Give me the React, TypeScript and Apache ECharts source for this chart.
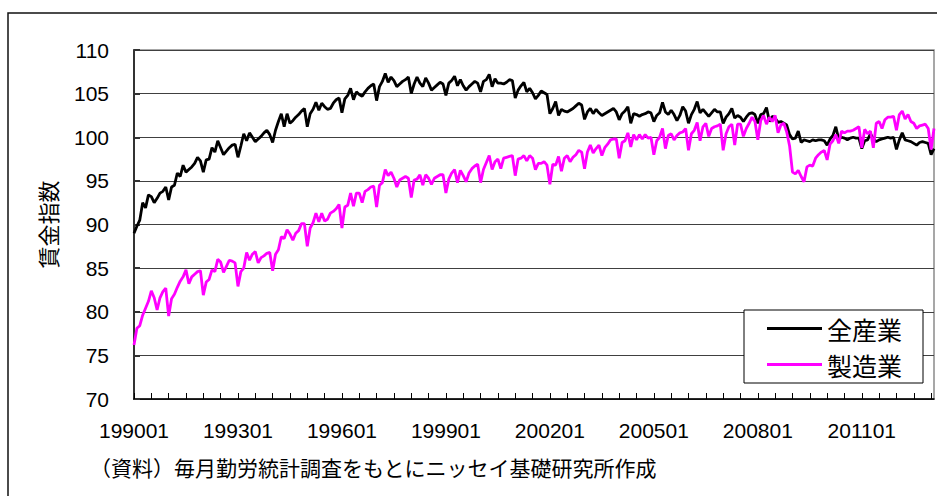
import React, { useEffect, useRef } from "react";
import * as echarts from "echarts";

// 全産業 (monthly, 1990-01 .. 2013-02)
const allIndustry: number[] = [
  // 1990
  89.0, 89.8, 90.5, 92.5, 91.9, 93.4, 93.2, 92.5, 93.0, 93.6, 93.8, 94.3,
  // 1991
  92.8, 94.3, 94.5, 95.9, 95.5, 96.8, 96.0, 96.3, 96.6, 97.0, 97.7, 97.3,
  // 1992
  96.0, 97.4, 97.5, 98.8, 98.3, 99.6, 98.8, 98.0, 98.4, 98.8, 99.1, 99.2,
  // 1993
  97.7, 99.0, 100.4, 99.6, 100.5, 100.0, 99.5, 99.8, 100.1, 100.5, 100.8, 100.3,
  // 1994
  99.4, 100.8, 101.8, 102.7, 101.2, 102.7, 101.6, 101.9, 102.3, 102.6, 103.0, 103.3,
  // 1995
  101.2, 102.7, 103.2, 104.0, 103.1, 103.9, 103.5, 103.2, 103.3, 103.9, 104.3, 104.5,
  // 1996
  102.8, 104.4, 104.8, 105.6, 104.3, 105.2, 104.9, 104.7, 105.2, 105.6, 105.9, 106.1,
  // 1997
  104.2, 105.8, 106.4, 107.3, 106.3, 106.9, 106.5, 105.8, 106.1, 106.4, 106.6, 106.9,
  // 1998
  105.0, 106.1, 106.9, 106.2, 105.8, 106.8, 106.2, 105.4, 105.7, 106.0, 106.3, 106.1,
  // 1999
  104.8, 106.2, 106.5, 107.0, 105.9, 106.6, 105.9, 105.4, 105.8, 106.1, 106.4, 106.2,
  // 2000
  105.2, 106.4, 106.6, 107.2, 105.8, 106.7, 106.2, 106.2, 106.1, 106.3, 106.6, 106.5,
  // 2001
  104.5, 105.4, 105.9, 106.3, 105.2, 105.6, 105.1, 104.4, 104.8, 105.3, 105.1, 104.9,
  // 2002
  102.7, 103.3, 104.1, 102.5, 103.2, 103.0, 102.9, 103.1, 103.3, 103.6, 103.9, 103.7,
  // 2003
  102.05, 102.9, 103.3, 102.7, 103.2, 102.8, 102.5, 102.7, 102.9, 103.1, 103.3, 102.9,
  // 2004
  102.0, 102.7, 103.0, 103.5, 101.6, 102.7, 102.6, 102.4, 102.6, 102.7, 102.9, 102.8,
  // 2005
  101.8, 102.5, 102.8, 104.0, 102.9, 102.6, 103.1, 102.6, 101.9, 102.5, 103.5, 103.0,
  // 2006
  101.6, 102.6, 103.2, 104.1, 102.8, 103.2, 102.8, 102.4, 102.8, 103.2, 102.9, 102.9,
  // 2007
  101.6, 102.3, 102.7, 103.3, 102.2, 102.5, 102.3, 101.8, 102.3, 102.7, 102.8, 102.6,
  // 2008
  101.6, 102.6, 102.7, 103.4, 101.8, 102.4, 102.2, 101.7, 101.8, 101.6, 101.4, 100.3,
  // 2009
  99.8, 99.9, 100.7, 99.4, 99.7, 99.6, 99.5, 99.7, 99.6, 99.7, 99.7, 99.6,
  // 2010
  99.1, 99.8, 100.2, 101.2, 99.8, 100.0, 99.9, 99.7, 99.9, 100.0, 99.9, 99.9,
  // 2011
  98.7, 99.6, 99.7, 100.4, 99.8, 99.5, 99.7, 99.8, 99.9, 100.0, 99.9, 100.0,
  // 2012
  98.6, 99.7, 100.5, 99.7, 99.6, 99.5, 99.3, 99.1, 99.4, 99.5, 99.4, 99.3,
  // 2013
  98.0, 98.7,
];

// 製造業 (monthly, 1990-01 .. 2013-02)
const manufacturing: number[] = [
  // 1990
  76.2, 78.1, 78.4, 79.6, 80.4, 81.2, 82.4, 81.6, 80.2, 81.6, 82.3, 82.7,
  // 1991
  79.5, 81.5, 82.0, 82.8, 83.5, 84.0, 84.8, 83.2, 84.0, 84.3, 84.6, 84.7,
  // 1992
  81.9, 83.4, 83.7, 84.8, 84.6, 86.0, 85.7, 84.5, 85.2, 85.9, 85.8, 85.6,
  // 1993
  82.9, 84.6, 85.0, 86.8, 85.9, 86.6, 86.9, 85.6, 86.2, 86.4, 86.7, 86.8,
  // 1994
  84.7, 86.6, 87.1, 88.6, 88.4, 89.4, 88.9, 88.2, 89.0, 89.3, 90.1, 90.1,
  // 1995
  87.5, 89.6, 90.2, 91.3, 90.3, 91.3, 90.4, 90.6, 91.3, 91.5, 91.8, 92.3,
  // 1996
  89.6, 92.0, 92.2, 93.6, 92.1, 93.6, 93.6, 92.5, 93.8, 94.0, 94.3, 94.4,
  // 1997
  92.0, 94.5, 94.8, 96.3, 95.6, 96.0, 95.3, 94.3, 95.1, 95.3, 95.5, 95.3,
  // 1998
  93.1, 95.1, 95.2, 95.7, 94.5, 95.7, 95.3, 94.6, 95.3, 95.5, 95.7, 95.7,
  // 1999
  93.6, 95.2, 95.9, 96.3, 94.8, 96.2, 95.6, 94.9, 95.9, 96.4, 96.7, 96.9,
  // 2000
  94.8, 96.3, 97.1, 97.9, 96.3, 97.2, 97.5, 96.4, 97.6, 97.7, 97.8, 97.9,
  // 2001
  95.6, 97.5, 97.6, 97.9, 97.3, 97.9, 97.6, 96.3, 97.0, 97.0, 97.2, 96.8,
  // 2002
  94.6, 96.9, 96.8, 97.8, 96.1, 97.6, 97.9, 97.2, 97.7, 98.0, 98.5, 98.3,
  // 2003
  96.4, 98.3, 99.1, 98.2, 98.7, 99.1, 97.9, 98.8, 99.2, 99.7, 99.8, 99.8,
  // 2004
  97.6, 99.4, 99.6, 100.5, 98.9, 100.3, 99.7, 100.3, 99.8, 100.3, 99.9, 100.0,
  // 2005
  98.0, 99.6, 100.0, 101.0, 98.7, 100.2, 100.4, 99.7, 100.2, 100.5, 100.6, 101.0,
  // 2006
  98.5, 100.4, 100.8, 101.7, 99.6, 101.2, 101.6, 100.1, 101.0, 101.2, 101.3, 101.5,
  // 2007
  98.5, 100.4, 101.2, 101.5, 99.1, 101.5, 101.5, 100.1, 101.0, 101.6, 102.3, 101.8,
  // 2008
  99.7, 101.9, 102.5, 101.5, 102.3, 101.8, 102.5, 100.5, 101.4, 101.6, 100.6, 99.0,
  // 2009
  96.0, 95.8, 96.2, 95.5, 94.9, 96.6, 96.8, 96.7, 97.6, 98.0, 98.3, 98.5,
  // 2010
  97.4, 99.2, 99.6, 100.3, 99.3, 100.7, 100.5, 100.7, 100.7, 100.8, 101.0, 101.2,
  // 2011
  98.8, 100.9, 100.4, 100.7, 98.8, 101.6, 101.8, 101.0, 102.0, 102.3, 102.3, 102.4,
  // 2012
  100.8, 102.6, 103.0, 102.1, 102.6, 101.8, 101.6, 101.0, 101.3, 101.4, 101.5, 101.0,
  // 2013
  98.6, 101.0,
];

const firstYear = 1990;
const pointCount = allIndustry.length;
const categories: string[] = [];
for (let i = 0; i < pointCount; i++) {
  const y = firstYear + Math.floor(i / 12);
  const m = (i % 12) + 1;
  categories.push(`${y}${m < 10 ? "0" + m : m}`);
}

const seriesNames = ["全産業", "製造業"];
const yAxisName = "賃金指数";
const sourceNote = "（資料）毎月勤労統計調査をもとにニッセイ基礎研究所作成";

const LATIN = "'Liberation Sans', Arial, 'Noto Sans CJK JP', sans-serif";
const CJK = "'Noto Sans CJK JP', 'Liberation Sans', sans-serif";

export default function App() {
  const ref = useRef<HTMLDivElement>(null);
  useEffect(() => {
    if (!ref.current) return;
    const chart = echarts.init(ref.current, undefined, { renderer: "svg" });
    chart.setOption({
      animation: false,
      backgroundColor: "#ffffff",
      grid: {
        left: 134,
        top: 50,
        right: 3,
        bottom: 97,
        show: true,
        borderColor: "#8a8a8a",
        borderWidth: 1.5,
        backgroundColor: "transparent",
      },
      legend: {
        orient: "vertical",
        left: 744,
        top: 310,
        data: seriesNames,
        icon: "rect",
        itemWidth: 55,
        itemHeight: 3,
        itemGap: 11,
        padding: [6, 21, 6, 23],
        backgroundColor: "#ffffff",
        borderColor: "#000000",
        borderWidth: 1,
        textStyle: { fontSize: 25, color: "#000", fontFamily: CJK },
      },
      xAxis: {
        type: "category",
        data: categories,
        boundaryGap: false,
        axisLine: { show: true, lineStyle: { color: "#000", width: 1.5 } },
        axisTick: {
          show: true,
          interval: 5,
          inside: true,
          length: 6,
          lineStyle: { color: "#000", width: 1 },
        },
        axisLabel: {
          interval: 35,
          fontSize: 21,
          color: "#000",
          margin: 21,
          fontFamily: LATIN,
        },
        splitLine: { show: false },
      },
      yAxis: {
        type: "value",
        min: 70,
        max: 110,
        interval: 5,
        name: yAxisName,
        nameLocation: "middle",
        nameRotate: 90,
        nameGap: 76,
        nameTextStyle: { fontSize: 22, color: "#000", fontFamily: CJK },
        axisLine: { show: true, lineStyle: { color: "#333", width: 2 } },
        axisTick: {
          show: true,
          inside: true,
          length: 6,
          lineStyle: { color: "#333", width: 2 },
        },
        axisLabel: {
          fontSize: 21,
          color: "#000",
          margin: 25,
          fontFamily: LATIN,
        },
        splitLine: { show: true, lineStyle: { color: "#404040", width: 1 } },
      },
      series: [
        {
          name: seriesNames[0],
          type: "line",
          data: allIndustry,
          symbol: "none",
          lineStyle: { color: "#000000", width: 2.8 },
          itemStyle: { color: "#000000" },
        },
        {
          name: seriesNames[1],
          type: "line",
          data: manufacturing,
          symbol: "none",
          lineStyle: { color: "#ff00ff", width: 2.8 },
          itemStyle: { color: "#ff00ff" },
        },
      ],
      graphic: [
        {
          type: "rect",
          shape: { x: 8, y: 13, width: 1200, height: 800 },
          style: { fill: "none", stroke: "#111", lineWidth: 1.5 },
          silent: true,
          z: -1,
        },
        {
          type: "text",
          x: 90,
          y: 467,
          style: {
            text: sourceNote,
            fontSize: 21,
            fill: "#000",
            fontFamily: CJK,
            verticalAlign: "middle",
            align: "left",
          },
        },
      ],
    });
    return () => chart.dispose();
  }, []);
  return (
    <div
      ref={ref}
      style={{ position: "fixed", left: 0, top: 0, width: 937, height: 496 }}
    />
  );
}
